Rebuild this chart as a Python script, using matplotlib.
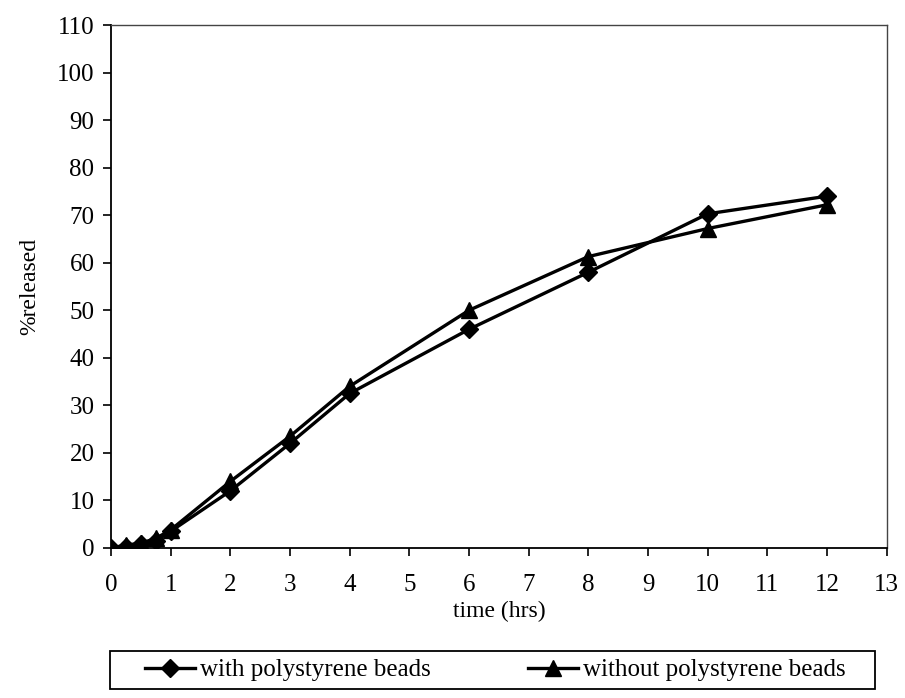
import matplotlib
matplotlib.use('Agg')
from matplotlib import pyplot as plt
from matplotlib.patches import Rectangle

plt.rcParams['font.family'] = ['Liberation Serif', 'DejaVu Serif']

# release data
time_hrs = [0, 0.25, 0.5, 0.75, 1, 2, 3, 4, 6, 8, 10, 12]
with_beads = [0, 0.3, 0.8, 1.5, 3.5, 12, 22, 32.5, 46, 58, 70.3, 74]
without_beads = [0, 0.6, 1.0, 2.0, 3.8, 14, 23.5, 34, 50, 61.3, 67.2, 72.2]

x_ticks = list(range(0, 14))
y_ticks = list(range(0, 111, 10))

fig = plt.figure(figsize=(9.05, 6.98), dpi=100)
ax = fig.add_axes([0.1227, 0.215, 0.857, 0.749])

ax.plot(time_hrs, with_beads, color='black', lw=2.4, marker='D', ms=9,
        label='with polystyrene beads')
ax.plot(time_hrs, without_beads, color='black', lw=2.4, marker='^', ms=11,
        label='without polystyrene beads')

ax.set_xlim(0, 13)
ax.set_ylim(0, 110)
ax.set_xticks(x_ticks)
ax.set_yticks(y_ticks)
ax.tick_params(direction='out', length=6, width=1.2, labelsize=18)
ax.tick_params(axis='x', pad=13)
ax.tick_params(axis='y', pad=6)
for s in ['left', 'bottom']:
    ax.spines[s].set_linewidth(1.3)
for s in ['top', 'right']:
    ax.spines[s].set_linewidth(1.0)
    ax.spines[s].set_color('#444444')

ax.set_xlabel('time (hrs)', fontsize=17, labelpad=3)
ax.set_ylabel('%released', fontsize=17, labelpad=12)

leg = fig.legend(loc='center', bbox_to_anchor=(0.547, 0.04), ncol=2,
                 fontsize=18, frameon=False, handlelength=2.0,
                 columnspacing=3.9, handletextpad=0.2)

# legend box like the Excel one: wider than its entries
fig.patches.append(Rectangle((0.122, 0.013), 0.845, 0.054, transform=fig.transFigure,
                             fill=False, edgecolor='black', lw=1.3))

fig.savefig('out.png', dpi=100)
